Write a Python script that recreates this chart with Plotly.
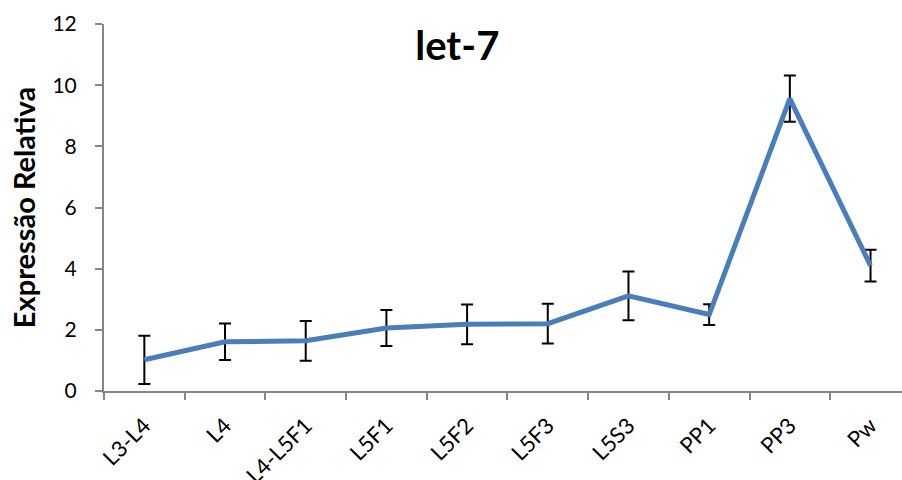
import plotly.graph_objects as go

categories = ["L3-L4", "L4", "L4-L5F1", "L5F1", "L5F2", "L5F3", "L5S3", "PP1", "PP3", "Pw"]
values = [1.02, 1.61, 1.64, 2.06, 2.18, 2.2, 3.11, 2.5, 9.56, 4.1]
errors = [0.79, 0.6, 0.65, 0.59, 0.65, 0.65, 0.8, 0.34, 0.76, 0.52]
y_ticks = [0, 2, 4, 6, 8, 10, 12]

FONT = "Lato"
AXIS_COLOR = "#868686"

fig = go.Figure()
fig.add_trace(go.Scatter(
    x=categories, y=values,
    mode="lines",
    line=dict(color="#4A7EBB", width=5),
    error_y=dict(type="data", array=errors, visible=True,
                 color="black", thickness=2, width=6),
    showlegend=False,
))

fig.update_layout(
    width=902, height=480,
    margin=dict(l=104, r=0, t=24, b=89),
    paper_bgcolor="white", plot_bgcolor="white",
    font=dict(family=FONT, size=18, color="black"),
    title=dict(text="<b>let-7</b>", x=0.507, xanchor="center", y=0.905, yanchor="middle",
               font=dict(family=FONT, size=40, color="black")),
)
fig.update_xaxes(
    type="category", range=[-0.5, 9.39], automargin=False,
    showline=True, linecolor=AXIS_COLOR, linewidth=2,
    ticks="outside", ticklen=7, tickcolor=AXIS_COLOR, tickwidth=2,
    tickson="boundaries", tickangle=-45,
    ticklabelstandoff=11,
    tickfont=dict(family=FONT, size=22),
    showgrid=False, zeroline=False,
)
fig.update_yaxes(
    range=[0, 12], tickvals=y_ticks, automargin=False,
    showline=True, linecolor=AXIS_COLOR, linewidth=2,
    ticks="outside", ticklen=7, tickcolor=AXIS_COLOR, tickwidth=2,
    ticklabelstandoff=14,
    tickfont=dict(family=FONT, size=21),
    showgrid=False, zeroline=False,
    title=dict(text="<b>Expressão Relativa</b>", font=dict(family=FONT, size=29), standoff=8),
)

fig.write_html("out.html", config={"displayModeBar": False},
               post_script="document.body.style.margin='0';document.body.style.overflow='hidden';")
